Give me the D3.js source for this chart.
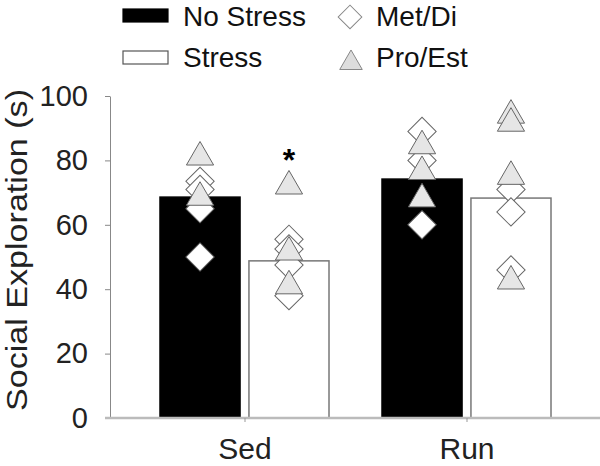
<!DOCTYPE html>
<html>
<head>
<meta charset="utf-8">
<script src="https://cdn.jsdelivr.net/npm/d3@7"></script>
<style>
  body { margin: 0; background: #fff; }
  svg { display: block; font-family: Arial, 'Liberation Sans', sans-serif; }
</style>
</head>
<body>
<div class="chart"></div>
<script>
const groups = ['Sed', 'Run'];
const conditions = ['No Stress', 'Stress'];
const noStressMeans = [68.6, 74.2];
const stressMeans = [48.8, 68.3];
const yTicks = [0, 20, 40, 60, 80, 100];

// individual animals, per group / condition / strain
const sedNoStressMetDi = [73.5, 71, 65, 50];
const sedNoStressProEst = [81, 68.5];
const sedStressMetDi = [55.5, 52.5, 47.5, 38];
const sedStressProEst = [72, 51.5, 41];
const runNoStressMetDi = [89, 80, 60];
const runNoStressProEst = [84.5, 76.5, 68];
const runStressMetDi = [71, 64, 46];
const runStressProEst = [94, 91.5, 75, 42.5];

const significant = [{ group: 'Sed', condition: 'Stress', label: '*' }];

function main() {
  const bars = [];
  groups.forEach((g, i) => {
    bars.push({ group: g, condition: 'No Stress', value: noStressMeans[i] });
    bars.push({ group: g, condition: 'Stress', value: stressMeans[i] });
  });

  const points = [];
  function addPoints(group, condition, type, values) {
    values.forEach((v) => points.push({ group, condition, type, value: v }));
  }
  addPoints('Sed', 'No Stress', 'Met/Di', sedNoStressMetDi);
  addPoints('Sed', 'No Stress', 'Pro/Est', sedNoStressProEst);
  addPoints('Sed', 'Stress', 'Met/Di', sedStressMetDi);
  addPoints('Sed', 'Stress', 'Pro/Est', sedStressProEst);
  addPoints('Run', 'No Stress', 'Met/Di', runNoStressMetDi);
  addPoints('Run', 'No Stress', 'Pro/Est', runNoStressProEst);
  addPoints('Run', 'Stress', 'Met/Di', runStressMetDi);
  addPoints('Run', 'Stress', 'Pro/Est', runStressProEst);

  const svg = d3
    .select('.chart')
    .append('svg')
    .attr('width', 600)
    .attr('height', 466);

  const x0 = d3.scaleBand().domain(groups).range([134, 578]);
  const x1 = d3.scaleBand().domain(conditions).range([26, 195]).paddingInner(0.1);
  const y = d3.scaleLinear().domain([0, 100]).range([418, 96]);

  const barFill = { 'No Stress': '#000', Stress: '#fff' };
  const diamond = d3.symbol().type(d3.symbolSquare).size(400);
  const triangle = d3.symbol().type(d3.symbolTriangle).size(320);

  // bars
  svg
    .append('g')
    .selectAll('.bar')
    .data(bars)
    .enter()
    .append('rect')
    .attr('class', 'bar')
    .attr('x', (d) => x0(d.group) + x1(d.condition))
    .attr('width', x1.bandwidth())
    .attr('y', (d) => y(d.value))
    .attr('height', (d) => y(0) - y(d.value))
    .attr('fill', (d) => barFill[d.condition])
    .attr('stroke', (d) => (d.condition === 'Stress' ? '#777' : '#000'))
    .attr('stroke-width', 1.5);

  // y axis
  const yAxis = svg
    .append('g')
    .attr('transform', 'translate(110,0)')
    .call(d3.axisLeft(y).tickValues(yTicks).tickSize(5).tickPadding(17).tickSizeOuter(0));
  yAxis.select('.domain').attr('stroke', '#888');
  yAxis.selectAll('.tick line').attr('stroke', '#888');
  yAxis
    .selectAll('.tick text')
    .attr('font-size', 29)
    .attr('font-family', 'Arial, Liberation Sans, sans-serif')
    .attr('fill', '#222');

  // x axis
  const xAxis = svg
    .append('g')
    .attr('transform', 'translate(0,418)')
    .call(d3.axisBottom(x0).tickSize(4).tickPadding(16).tickSizeOuter(0));
  xAxis.select('.domain').attr('d', 'M105,0H600').attr('stroke', '#bbb').attr('stroke-width', 2.5);
  xAxis.selectAll('.tick line').attr('stroke', '#999');
  xAxis
    .selectAll('.tick text')
    .attr('font-size', 30)
    .attr('font-family', 'Arial, Liberation Sans, sans-serif')
    .attr('fill', '#222');

  svg
    .append('text')
    .attr('transform', 'translate(27,250) rotate(-90)')
    .attr('text-anchor', 'middle')
    .attr('font-size', 29)
    .attr('textLength', 322)
    .attr('lengthAdjust', 'spacingAndGlyphs')
    .attr('fill', '#222')
    .text('Social Exploration (s)');

  // points
  const cx = (d) => x0(d.group) + x1(d.condition) + x1.bandwidth() / 2;
  svg
    .append('g')
    .selectAll('.dia')
    .data(points.filter((d) => d.type === 'Met/Di'))
    .enter()
    .append('path')
    .attr('class', 'dia')
    .attr('d', diamond)
    .attr('transform', (d) => `translate(${cx(d)},${y(d.value)}) rotate(45)`)
    .attr('fill', '#fff')
    .attr('stroke', '#666')
    .attr('stroke-width', 1);
  svg
    .append('g')
    .selectAll('.tri')
    .data(points.filter((d) => d.type === 'Pro/Est'))
    .enter()
    .append('path')
    .attr('class', 'tri')
    .attr('d', triangle)
    .attr('transform', (d) => `translate(${cx(d)},${y(d.value)})`)
    .attr('fill', '#e6e6e6')
    .attr('stroke', '#666')
    .attr('stroke-width', 1);

  // significance
  svg
    .append('g')
    .selectAll('.sig')
    .data(significant)
    .enter()
    .append('text')
    .attr('class', 'sig')
    .attr('x', (d) => x0(d.group) + x1(d.condition) + x1.bandwidth() / 2)
    .attr('y', 171)
    .attr('text-anchor', 'middle')
    .attr('font-size', 32)
    .attr('font-weight', 'bold')
    .text((d) => d.label);

  // legend
  const legend = svg.append('g');
  conditions.forEach((c, i) => {
    legend
      .append('rect')
      .attr('x', 123)
      .attr('y', 9 + i * 42)
      .attr('width', 45)
      .attr('height', 13)
      .attr('fill', barFill[c])
      .attr('stroke', c === 'Stress' ? '#555' : '#000')
      .attr('stroke-width', 1.2);
    legend
      .append('text')
      .attr('x', 183)
      .attr('y', 26 + i * 41)
      .attr('font-size', 28)
      .attr('fill', '#111')
      .text(c);
  });
  legend
    .append('path')
    .attr('d', d3.symbol().type(d3.symbolSquare).size(280)())
    .attr('transform', 'translate(350,17) rotate(45)')
    .attr('fill', '#fff')
    .attr('stroke', '#888');
  legend
    .append('path')
    .attr('d', d3.symbol().type(d3.symbolTriangle).size(220)())
    .attr('transform', 'translate(351,63)')
    .attr('fill', '#ddd')
    .attr('stroke', '#888');
  ['Met/Di', 'Pro/Est'].forEach((t, i) => {
    legend
      .append('text')
      .attr('x', 376)
      .attr('y', 26 + i * 41)
      .attr('font-size', 28)
      .attr('fill', '#111')
      .text(t);
  });
}
main();
</script>
</body>
</html>
